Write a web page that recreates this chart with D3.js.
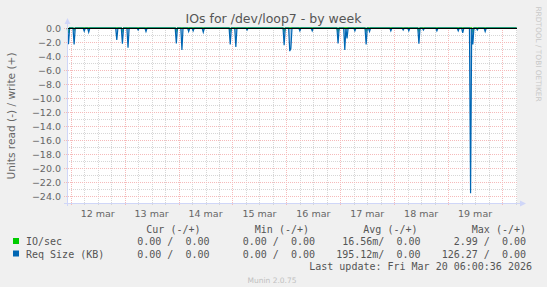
<!DOCTYPE html>
<html><head><meta charset="utf-8">
<script src="https://cdn.jsdelivr.net/npm/d3@7"></script>
<style>
html,body{margin:0;padding:0;background:#F0F0F0;}
svg{display:block;}
text{font-family:"DejaVu Sans",sans-serif;}
.mono{font-family:"DejaVu Sans Mono",monospace;font-size:10px;fill:#555;white-space:pre;}
</style></head>
<body>
<script>
// ---- data (read values, negative = read) ----
const spikeTimes = [
 "2026-03-11T23:00","2026-03-12T01:30","2026-03-12T06:00","2026-03-12T08:00","2026-03-12T20:30",
 "2026-03-12T23:00","2026-03-13T01:30","2026-03-13T06:00","2026-03-13T09:30","2026-03-13T23:00",
 "2026-03-14T01:30","2026-03-14T04:30","2026-03-14T06:30","2026-03-14T11:00","2026-03-14T23:00",
 "2026-03-15T01:30","2026-03-15T06:30","2026-03-15T23:00","2026-03-16T01:30","2026-03-16T02:00",
 "2026-03-16T06:00","2026-03-16T11:30","2026-03-16T23:00","2026-03-17T02:00","2026-03-17T03:00",
 "2026-03-17T06:30","2026-03-17T11:30","2026-03-17T13:00","2026-03-17T22:30","2026-03-18T04:00",
 "2026-03-18T06:30","2026-03-18T11:00","2026-03-18T13:00","2026-03-18T19:00","2026-03-19T04:30",
 "2026-03-19T06:30","2026-03-19T10:00","2026-03-19T11:00","2026-03-19T13:00","2026-03-19T16:30"
];
const reqSizeRead = [
 -2.3,-2.35,-0.45,-0.6,-1.7,
 -2.25,-2.8,-0.3,-0.5,-2.2,
 -3.15,-0.5,-0.4,-0.6,-2.35,
 -2.7,-0.3,-2.45,-3.3,-2.9,
 -0.4,-0.4,-2.2,-3.15,-1.5,
 -0.4,-2.35,-0.5,-0.4,-0.3,
 -0.4,-2.25,-0.3,-0.4,-0.4,
 -0.7,-23.6,-2.35,-0.3,-0.5
];
const ioRead = [
 -0.7,-0.3,0,0,0,
 -0.45,0,0,0,-0.45,
 0,0,0,0,-0.45,
 0,0,-0.45,0,0,
 0,0,-0.5,0,0,
 0,-0.4,0,0,0,
 0,-0.45,0,0,0,
 0,0,-0.55,0,0
];
const dayTickLabels = ["12 mar","13 mar","14 mar","15 mar","16 mar","17 mar","18 mar","19 mar"];
const yTickValues = [0,-2,-4,-6,-8,-10,-12,-14,-16,-18,-20,-22,-24];
const legendNames = ["IO/sec","Req Size (KB)"];
const legendColors = ["#00CC00","#0066B3"];
const legendCur = ["0.00 /  0.00","0.00 /  0.00"];
const legendMin = ["0.00 /  0.00","0.00 /  0.00"];
const legendAvg = ["16.56m/  0.00","195.12m/  0.00"];
const legendMax = ["2.99 /  0.00","126.27 /  0.00"];

(function(){
const W=547,H=287;
const pL=67,pR=517,pT=28,pB=203;
const parse=d3.timeParse("%Y-%m-%dT%H:%M");
const t0=new Date(2026,2,11,22,20), t1=new Date(2026,2,20,6,40);
const x=d3.scaleTime().domain([t0,t1]).range([pL,pR]);
const y=d3.scaleLinear().domain([-25,0]).range([pB,pT]);

const svg=d3.select("body").append("svg").attr("width",W).attr("height",H);
svg.append("rect").attr("width",W).attr("height",H).attr("fill","#F0F0F0");
svg.append("rect").attr("x",pL).attr("y",pT).attr("width",pR-pL).attr("height",pB-pT).attr("fill","#fff");

const minorCol="#D6D6D6", majorCol="#F5BABA";
const g=svg.append("g").attr("shape-rendering","crispEdges");
for(let v=-25; v<0; v++){
  if(v%2===0) continue;
  g.append("line").attr("x1",pL).attr("x2",pR).attr("y1",Math.round(y(v))+0.5).attr("y2",Math.round(y(v))+0.5)
   .attr("stroke",minorCol).attr("stroke-dasharray","1,1");
}
const sixH=d3.timeHour.every(6).range(t0,t1).filter(d=>d.getHours()!==0);
sixH.forEach(d=>{
  const px=Math.round(x(d))+0.5;
  g.append("line").attr("x1",px).attr("x2",px).attr("y1",pT).attr("y2",pB+2).attr("stroke",minorCol).attr("stroke-dasharray","1,1");
});
yTickValues.forEach(v=>{
  const py=Math.round(y(v))+0.5;
  g.append("line").attr("x1",pL-3).attr("x2",pR).attr("y1",py).attr("y2",py)
   .attr("stroke",majorCol).attr("stroke-dasharray","1,1");
});
const days=d3.timeDay.range(new Date(2026,2,12),t1);
days.forEach(d=>{
  const px=Math.round(x(d))+0.5;
  g.append("line").attr("x1",px).attr("x2",px).attr("y1",pT).attr("y2",pB+3).attr("stroke",majorCol).attr("stroke-dasharray","1,1");
});

const yFmt=d3.format(".1f");
svg.append("g").selectAll("text").data(yTickValues).join("text")
  .attr("x",61).attr("y",d=>y(d)+3.5).attr("text-anchor","end")
  .attr("font-size","9.5px").attr("fill","#666").text(d=>yFmt(d));
svg.append("g").selectAll("text").data(dayTickLabels).join("text")
  .attr("x",(d,i)=>x(d3.timeHour.offset(days[i],12))).attr("y",216.5).attr("text-anchor","middle")
  .attr("font-size","9.5px").attr("fill","#666").text(d=>d);

const steps=d3.timeMinute.every(30).range(new Date(2026,2,11,22,30),t1);
const mapReq=new Map(), mapIo=new Map();
spikeTimes.forEach((s,i)=>{const k=+parse(s); mapReq.set(k,reqSizeRead[i]); mapIo.set(k,ioRead[i]);});
const seriesReq=steps.map(d=>({t:d,v:mapReq.get(+d)||0}));
const seriesIo=steps.map(d=>({t:d,v:mapIo.get(+d)||0}));
const line=d3.line().x(d=>x(d.t)).y(d=>y(d.v));
const area=d3.area().x(d=>x(d.t)).y0(y(0)).y1(d=>y(d.v));
svg.append("path").datum(seriesIo).attr("d",line).attr("fill","none").attr("stroke","#00CC00").attr("stroke-width",1.4);
svg.append("path").datum(seriesReq).attr("d",area).attr("fill","#5A9BD5").attr("opacity",0.55);
svg.append("path").datum(seriesReq).attr("d",line).attr("fill","none").attr("stroke","#0066B3").attr("stroke-width",1.2);
svg.append("line").attr("x1",pL).attr("x2",pR).attr("y1",y(0)+0.5).attr("y2",y(0)+0.5)
  .attr("stroke","#000").attr("stroke-width",1).attr("shape-rendering","crispEdges");

const axisCol="#CFD6F8";
svg.append("line").attr("x1",pL+0.5).attr("x2",pL+0.5).attr("y1",pB+3).attr("y2",22).attr("stroke",axisCol).attr("shape-rendering","crispEdges");
svg.append("path").attr("d",`M${pL-2.5},24 L${pL+0.5},18 L${pL+3.5},24 Z`).attr("fill",axisCol);
svg.append("line").attr("x1",pL-3).attr("x2",522).attr("y1",pB+0.5).attr("y2",pB+0.5).attr("stroke",axisCol).attr("shape-rendering","crispEdges");
svg.append("path").attr("d",`M520,${pB-2.5} L526,${pB+0.5} L520,${pB+3.5} Z`).attr("fill",axisCol);

svg.append("text").attr("x",273.5).attr("y",23).attr("text-anchor","middle").attr("font-size","12.5px").attr("fill","#555").text("IOs for /dev/loop7 - by week");
svg.append("text").attr("transform","translate(15,116) rotate(-90)").attr("text-anchor","middle").attr("font-size","10.6px").attr("fill","#666").text("Units read (-) / write (+)");
svg.append("text").attr("transform","translate(535.5,54) rotate(90)").attr("text-anchor","middle").attr("font-size","7.4px").attr("fill","#C8C8C8").text("RRDTOOL / TOBI OETIKER");

const hdrY=232.5, rowY=[245,257.5];
[["Cur (-/+)",200.5],["Min (-/+)",309],["Avg (-/+)",417.5],["Max (-/+)",526]].forEach(([t,xx])=>{
  svg.append("text").attr("class","mono").attr("x",xx).attr("y",hdrY).attr("text-anchor","end").text(t);
});
legendNames.forEach((n,i)=>{
  svg.append("rect").attr("x",13).attr("y",rowY[i]-7).attr("width",6).attr("height",6).attr("fill",legendColors[i]);
  svg.append("text").attr("class","mono").attr("x",26).attr("y",rowY[i]).text(n);
  svg.append("text").attr("class","mono").attr("x",209.5).attr("y",rowY[i]).attr("text-anchor","end").text(legendCur[i]);
  svg.append("text").attr("class","mono").attr("x",315).attr("y",rowY[i]).attr("text-anchor","end").text(legendMin[i]);
  svg.append("text").attr("class","mono").attr("x",420.5).attr("y",rowY[i]).attr("text-anchor","end").text(legendAvg[i]);
  svg.append("text").attr("class","mono").attr("x",526).attr("y",rowY[i]).attr("text-anchor","end").text(legendMax[i]);
});
svg.append("text").attr("class","mono").attr("x",532).attr("y",270).attr("text-anchor","end").text("Last update: Fri Mar 20 06:00:36 2026");
svg.append("text").attr("x",272).attr("y",282.5).attr("text-anchor","middle").attr("font-size","7.5px").attr("fill","#C0C0C0").text("Munin 2.0.75");
})();
</script>
</body></html>
